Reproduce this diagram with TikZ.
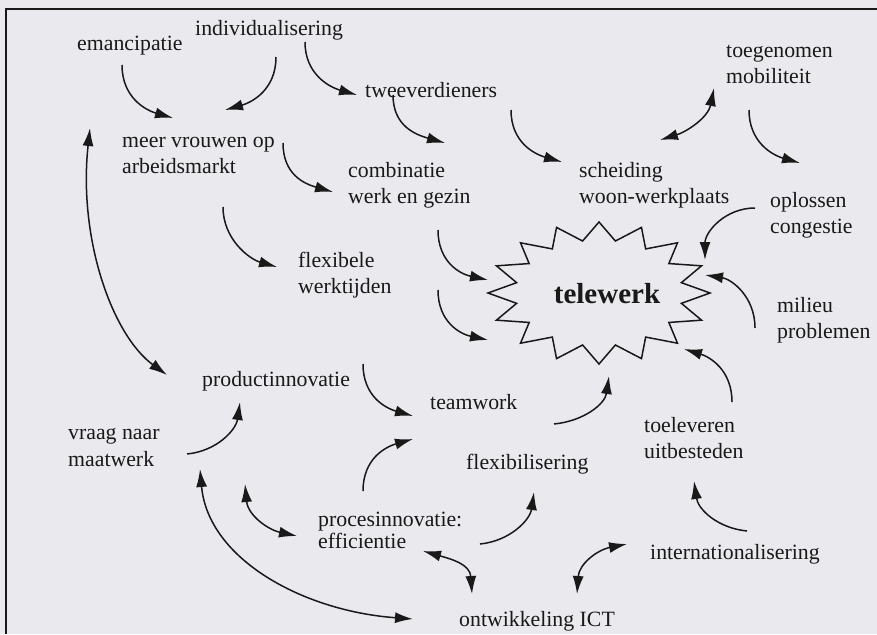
\documentclass[tikz,border=0pt]{standalone}
\usepackage{fontspec}
\setmainfont{Liberation Serif}
\usetikzlibrary{arrows.meta}
\definecolor{bgpaper}{RGB}{234,234,238}
\definecolor{ink}{RGB}{25,25,25}
\newcommand{\twoln}[3][26pt]{\vtop{\baselineskip=#1\hbox{#2}\hbox{#3}}}
\begin{document}
\begin{tikzpicture}[x=1pt,y=-1pt,
  every node/.style={inner sep=0pt, text=ink, font=\fontsize{21.8}{26}\selectfont},
  lbl/.style={anchor=base west},
  arr/.style={draw=ink, line width=1.5pt, -{Latex[length=18pt,width=11pt]}},
  darr/.style={draw=ink, line width=1.5pt, {Latex[length=18pt,width=11pt]}-{Latex[length=18pt,width=11pt]}},
  frame/.style={draw=ink, line width=1.8pt},
  burst/.style={draw=ink, line width=1.5pt, line join=miter}]
\useasboundingbox (0,0) rectangle (877,634);
\fill[bgpaper] (0,0) rectangle (877,634);
\draw[frame] (6,634) -- (6,9) -- (877,9);

% labels
\node[lbl] (emanc) at (77,50) {emancipatie};
\node[lbl] (indiv) at (195,36) {individualisering};
\node[lbl] (twee) at (365,97) {tweeverdieners};
\node[lbl] (meer) at (122,147) {\twoln{meer vrouwen op}{arbeidsmarkt}};
\node[lbl] (comb) at (348,177) {\twoln{combinatie}{werk en gezin}};
\node[lbl] (flex) at (298,267) {\twoln{flexibele}{werktijden}};
\node[lbl] (toeg) at (726,58) {\twoln[25pt]{toegenomen}{mobiliteit}};
\node[lbl] (scheid) at (579,177) {\twoln{scheiding}{woon-werkplaats}};
\node[lbl] (oploss) at (770,207) {\twoln{oplossen}{congestie}};
\node[lbl] (milieu) at (777,312) {\twoln{milieu}{problemen}};
\node[lbl] (prod) at (202,386) {productinnovatie};
\node[lbl] (vraag) at (68,439) {\twoln[27pt]{vraag naar}{maatwerk}};
\node[lbl] (team) at (430,409) {teamwork};
\node[lbl] (flexib) at (466,469) {flexibilisering};
\node[lbl] (toelev) at (644,432) {\twoln{toeleveren}{uitbesteden}};
\node[lbl] (proces) at (318,526) {\twoln[22pt]{procesinnovatie:}{efficientie}};
\node[lbl] (internat) at (650,559) {internationalisering};
\node[lbl] (ict) at (459,626) {ontwikkeling ICT};

% starburst
\draw[burst] (710,293) \foreach \a in {0,22.5,...,337.5} {
  -- ({599+84*cos(\a+11.25)},{293+53*sin(\a+11.25)})
  -- ({599+111*cos(\a+22.5)},{293+71*sin(\a+22.5)}) } -- cycle;
\node[anchor=base, font=\fontsize{29}{34}\selectfont\bfseries] (tw) at (607,303) {telewerk};

% connector end points
\coordinate (emanc-o) at (122,65);   \coordinate (meer-a) at (173,118);
\coordinate (indiv-o1) at (276,57);  \coordinate (meer-b) at (225,110);
\coordinate (indiv-o2) at (305,42);  \coordinate (twee-a) at (357,95);
\coordinate (twee-o1) at (393,95);   \coordinate (comb-a) at (445,143);
\coordinate (meer-o1) at (283,143);  \coordinate (comb-b) at (333,192);
\coordinate (meer-o2) at (223,207);  \coordinate (flex-a) at (277,267);
\coordinate (twee-o2) at (511,110);  \coordinate (scheid-a) at (562,162);
\coordinate (toeg-a) at (714,88);    \coordinate (scheid-b) at (660,140);
\coordinate (toeg-o) at (749,110);   \coordinate (oploss-a) at (800,163);
\coordinate (oploss-o) at (755,208); \coordinate (tw-a) at (705,260);
\coordinate (milieu-o) at (755,328); \coordinate (tw-b) at (705,275);
\coordinate (comb-o) at (438,230);   \coordinate (tw-c) at (488,280);
\coordinate (flex-o) at (438,290);   \coordinate (tw-d) at (488,340);
\coordinate (toelev-o) at (732,402); \coordinate (tw-e) at (684,349);
\coordinate (flexib-o) at (554,424); \coordinate (tw-f) at (609,376);
\coordinate (prod-o) at (363,364);   \coordinate (team-a) at (413,416);
\coordinate (proces-o1) at (363,491);\coordinate (team-b) at (413,439);
\coordinate (vraag-o) at (187,454);  \coordinate (prod-a) at (240,402);
\coordinate (proces-o2) at (480,544);\coordinate (flexib-a) at (534,492);
\coordinate (prod-b) at (245,484);   \coordinate (proces-a) at (297,536);
\coordinate (vraag-a) at (200,469);  \coordinate (ict-a) at (413,619);
\coordinate (proces-b) at (423,551); \coordinate (ict-b) at (472,594);
\coordinate (internat-a) at (627,544); \coordinate (ict-c) at (577,594);
\coordinate (internat-o) at (747,531); \coordinate (toelev-a) at (694,481);
\coordinate (meer-c) at (90,128);    \coordinate (prod-c) at (167,375);

% connectors
\draw[arr] (emanc-o) .. controls +(0,32) and +(-28,-8) .. (meer-a);
\draw[arr] (indiv-o1) .. controls +(0,32) and +(28,-8) .. (meer-b);
\draw[arr] (indiv-o2) .. controls +(0,32) and +(-28,-8) .. (twee-a);
\draw[arr] (twee-o1) .. controls +(0,32) and +(-28,-8) .. (comb-a);
\draw[arr] (meer-o1) .. controls +(0,32) and +(-28,-8) .. (comb-b);
\draw[arr] (meer-o2) .. controls +(0,32) and +(-28,-8) .. (flex-a);
\draw[arr] (twee-o2) .. controls +(0,32) and +(-28,-8) .. (scheid-a);
\draw[darr] (toeg-a) .. controls +(-6,30) and +(26,-8) .. (scheid-b);
\draw[arr] (toeg-o) .. controls +(0,32) and +(-28,-8) .. (oploss-a);
\draw[arr] (oploss-o) .. controls +(-30,0) and +(0,-28) .. (tw-a);
\draw[arr] (milieu-o) .. controls +(0,-32) and +(26,4) .. (tw-b);
\draw[arr] (comb-o) .. controls +(0,32) and +(-28,-6) .. (tw-c);
\draw[arr] (flex-o) .. controls +(0,32) and +(-28,-6) .. (tw-d);
\draw[arr] (toelev-o) .. controls +(0,-32) and +(26,8) .. (tw-e);
\draw[arr] (flexib-o) .. controls +(30,-3) and +(-4,28) .. (tw-f);
\draw[arr] (prod-o) .. controls +(0,32) and +(-28,-8) .. (team-a);
\draw[arr] (proces-o1) .. controls +(0,-32) and +(-28,8) .. (team-b);
\draw[arr] (vraag-o) .. controls +(30,-3) and +(-4,28) .. (prod-a);
\draw[arr] (proces-o2) .. controls +(30,-3) and +(-4,28) .. (flexib-a);
\draw[darr] (prod-b) .. controls +(3,32) and +(-28,-6) .. (proces-a);
\draw[darr] (vraag-a) .. controls +(8,90) and +(-110,-8) .. (ict-a);
\draw[darr] (proces-b) .. controls +(28,8) and +(-2,-30) .. (ict-b);
\draw[darr] (internat-a) .. controls +(-30,6) and +(2,-30) .. (ict-c);
\draw[arr] (internat-o) .. controls +(-30,-3) and +(4,28) .. (toelev-a);
\draw[darr] (meer-c) .. controls +(-12,110) and +(-55,-40) .. (prod-c);
\end{tikzpicture}
\end{document}
